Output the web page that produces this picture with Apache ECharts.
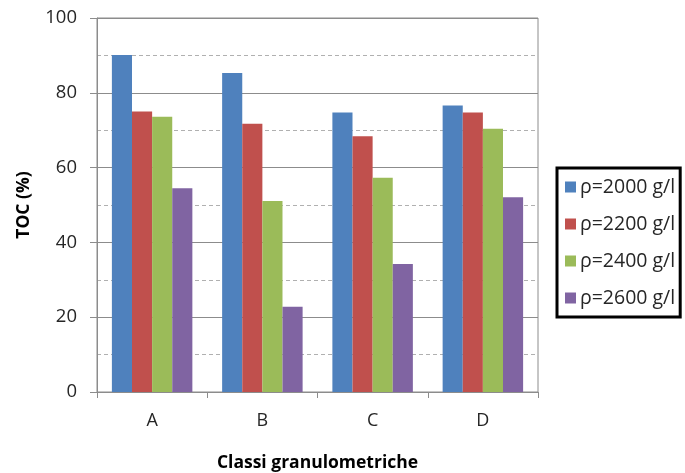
<!DOCTYPE html>
<html><head><meta charset="utf-8">
<script src="https://cdn.jsdelivr.net/npm/echarts@6/dist/echarts.min.js"></script>
<style>html,body{margin:0;padding:0;background:#fff}#c{width:685px;height:473px}</style>
</head><body><div id="c"></div>
<script>
var categories = ['A', 'B', 'C', 'D'];
var seriesNames = ['ρ=2000 g/l', 'ρ=2200 g/l', 'ρ=2400 g/l', 'ρ=2600 g/l'];
var s2000 = [90.1, 85.3, 74.7, 76.6];
var s2200 = [75.0, 71.7, 68.4, 74.7];
var s2400 = [73.6, 51.1, 57.3, 70.4];
var s2600 = [54.5, 22.8, 34.2, 52.1];
var yTicks = [0, 20, 40, 60, 80, 100];
var colors = ['#4F81BD', '#C0504D', '#9BBB59', '#8064A2'];
var allData = [s2000, s2200, s2400, s2600];
var font = 'Open Sans';
var chart = echarts.init(document.getElementById('c'));
chart.setOption({
  animation: false,
  textStyle: {fontFamily: font},
  grid: {left: 97, top: 18, width: 441, height: 374, show: true, borderColor: '#8c8c8c', borderWidth: 1, outerBoundsMode: 'none', containLabel: false},
  legend: {
    orient: 'vertical', left: 557, top: 168,
    data: seriesNames,
    icon: 'rect', itemWidth: 11, itemHeight: 11, itemGap: 17,
    padding: [9, 5, 9, 8],
    borderColor: '#000', borderWidth: 3,
    textStyle: {fontFamily: font, fontSize: 19.5, color: '#262626', lineHeight: 20, padding: [0, 0, 0, -1]}
  },
  xAxis: {
    type: 'category', data: categories,
    name: 'Classi granulometriche', nameLocation: 'middle', nameGap: 62,
    nameTextStyle: {fontFamily: font, fontSize: 17.5, fontWeight: 'bold', color: '#000'},
    axisLine: {lineStyle: {color: '#8c8c8c'}},
    axisTick: {show: true, length: 6, lineStyle: {color: '#8c8c8c'}},
    axisLabel: {fontFamily: font, fontSize: 18, color: '#262626', margin: 20}
  },
  yAxis: {
    type: 'value', min: yTicks[0], max: yTicks[yTicks.length - 1], interval: 20,
    name: 'TOC (%)', nameLocation: 'middle', nameGap: 64,
    nameTextStyle: {fontFamily: font, fontSize: 17.5, fontWeight: 'bold', color: '#000'},
    axisLine: {show: true, lineStyle: {color: '#8c8c8c'}},
    axisTick: {show: true, length: 7, lineStyle: {color: '#8c8c8c'}},
    axisLabel: {fontFamily: font, fontSize: 18.5, color: '#262626', margin: 20},
    splitLine: {lineStyle: {color: '#8c8c8c', width: 1}},
    minorTick: {show: false, splitNumber: 2},
    minorSplitLine: {show: true, lineStyle: {color: '#b0b0b0', type: [4, 3], width: 1}}
  },
  series: allData.map(function (d, i) {
    return {
      name: seriesNames[i], type: 'bar', data: d,
      barGap: '0%', barCategoryGap: '27%',
      itemStyle: {color: colors[i]}
    };
  })
});
</script></body></html>
